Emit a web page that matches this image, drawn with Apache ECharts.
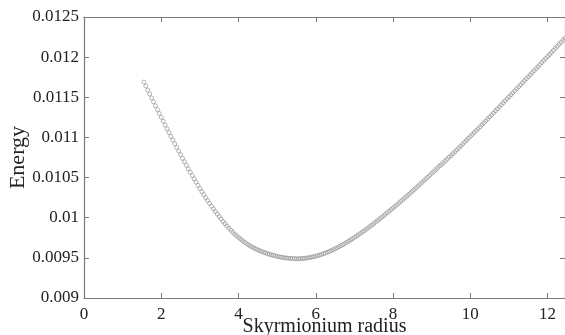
<!DOCTYPE html>
<html lang="en">

<head>
  <meta charset="UTF-8">
  <title>Energy vs Skyrmionium radius</title>
  <script src="https://cdn.jsdelivr.net/npm/echarts@6/dist/echarts.min.js"></script>
</head>
<style>
  * {
    margin: 0px;
    padding: 0px;
  }

  #chart {
    width: 565px;
    height: 335px;
  }
</style>

<body>
  <div id="chart"></div>
</body>
<script>
  // radius samples
  var radius = [
    1.55, 1.60, 1.65, 1.70, 1.75, 1.80, 1.85, 1.90, 1.95, 2.00,
    2.05, 2.10, 2.15, 2.20, 2.25, 2.30, 2.35, 2.40, 2.45, 2.50,
    2.55, 2.60, 2.65, 2.70, 2.75, 2.80, 2.85, 2.90, 2.95, 3.00,
    3.05, 3.10, 3.15, 3.20, 3.25, 3.30, 3.35, 3.40, 3.45, 3.50,
    3.55, 3.60, 3.65, 3.70, 3.75, 3.80, 3.85, 3.90, 3.95, 4.00,
    4.05, 4.10, 4.15, 4.20, 4.25, 4.30, 4.35, 4.40, 4.45, 4.50,
    4.55, 4.60, 4.65, 4.70, 4.75, 4.80, 4.85, 4.90, 4.95, 5.00,
    5.05, 5.10, 5.15, 5.20, 5.25, 5.30, 5.35, 5.40, 5.45, 5.50,
    5.55, 5.60, 5.65, 5.70, 5.75, 5.80, 5.85, 5.90, 5.95, 6.00,
    6.05, 6.10, 6.15, 6.20, 6.25, 6.30, 6.35, 6.40, 6.45, 6.50,
    6.55, 6.60, 6.65, 6.70, 6.75, 6.80, 6.85, 6.90, 6.95, 7.00,
    7.05, 7.10, 7.15, 7.20, 7.25, 7.30, 7.35, 7.40, 7.45, 7.50,
    7.55, 7.60, 7.65, 7.70, 7.75, 7.80, 7.85, 7.90, 7.95, 8.00,
    8.05, 8.10, 8.15, 8.20, 8.25, 8.30, 8.35, 8.40, 8.45, 8.50,
    8.55, 8.60, 8.65, 8.70, 8.75, 8.80, 8.85, 8.90, 8.95, 9.00,
    9.05, 9.10, 9.15, 9.20, 9.25, 9.30, 9.35, 9.40, 9.45, 9.50,
    9.55, 9.60, 9.65, 9.70, 9.75, 9.80, 9.85, 9.90, 9.95, 10.00,
    10.05, 10.10, 10.15, 10.20, 10.25, 10.30, 10.35, 10.40, 10.45, 10.50,
    10.55, 10.60, 10.65, 10.70, 10.75, 10.80, 10.85, 10.90, 10.95, 11.00,
    11.05, 11.10, 11.15, 11.20, 11.25, 11.30, 11.35, 11.40, 11.45, 11.50,
    11.55, 11.60, 11.65, 11.70, 11.75, 11.80, 11.85, 11.90, 11.95, 12.00,
    12.05, 12.10, 12.15, 12.20, 12.25, 12.30, 12.35, 12.40, 12.45
  ];

  // energy at each radius
  var energy = [
    0.011690, 0.011640, 0.011590, 0.011541, 0.011492, 0.011443, 0.011394, 0.011346, 0.011298, 0.011250,
    0.011202, 0.011154, 0.011107, 0.011060, 0.011013, 0.010967, 0.010921, 0.010875, 0.010830, 0.010785,
    0.010740, 0.010696, 0.010652, 0.010609, 0.010567, 0.010525, 0.010484, 0.010443, 0.010403, 0.010364,
    0.010325, 0.010287, 0.010250, 0.010214, 0.010179, 0.010144, 0.010110, 0.010077, 0.010045, 0.010014,
    0.009983, 0.009953, 0.009924, 0.009896, 0.009869, 0.009844, 0.009820, 0.009797, 0.009775, 0.009754,
    0.009734, 0.009715, 0.009697, 0.009680, 0.009664, 0.009649, 0.009635, 0.009622, 0.009610, 0.009599,
    0.009589, 0.009579, 0.009570, 0.009561, 0.009553, 0.009545, 0.009538, 0.009531, 0.009525, 0.009519,
    0.009514, 0.009509, 0.009505, 0.009501, 0.009498, 0.009495, 0.009493, 0.009491, 0.009490, 0.009489,
    0.009489, 0.009490, 0.009492, 0.009494, 0.009497, 0.009501, 0.009505, 0.009510, 0.009515, 0.009521,
    0.009528, 0.009535, 0.009543, 0.009552, 0.009561, 0.009570, 0.009580, 0.009591, 0.009602, 0.009614,
    0.009626, 0.009639, 0.009652, 0.009665, 0.009679, 0.009693, 0.009708, 0.009723, 0.009738, 0.009754,
    0.009770, 0.009787, 0.009803, 0.009820, 0.009837, 0.009855, 0.009872, 0.009890, 0.009908, 0.009927,
    0.009946, 0.009965, 0.009984, 0.010003, 0.010022, 0.010042, 0.010062, 0.010082, 0.010102, 0.010122,
    0.010142, 0.010162, 0.010183, 0.010203, 0.010224, 0.010245, 0.010266, 0.010287, 0.010308, 0.010330,
    0.010352, 0.010374, 0.010396, 0.010418, 0.010440, 0.010462, 0.010484, 0.010506, 0.010528, 0.010551,
    0.010574, 0.010597, 0.010620, 0.010643, 0.010661, 0.010684, 0.010707, 0.010730, 0.010754, 0.010773,
    0.010797, 0.010821, 0.010845, 0.010869, 0.010893, 0.010917, 0.010941, 0.010965, 0.010989, 0.011013,
    0.011037, 0.011061, 0.011085, 0.011109, 0.011133, 0.011158, 0.011182, 0.011207, 0.011231, 0.011256,
    0.011281, 0.011306, 0.011331, 0.011356, 0.011381, 0.011406, 0.011431, 0.011456, 0.011481, 0.011506,
    0.011531, 0.011556, 0.011581, 0.011606, 0.011631, 0.011656, 0.011681, 0.011706, 0.011731, 0.011756,
    0.011781, 0.011806, 0.011831, 0.011856, 0.011881, 0.011906, 0.011932, 0.011957, 0.011983, 0.012008,
    0.012033, 0.012059, 0.012084, 0.012110, 0.012135, 0.012161, 0.012186, 0.012212, 0.012237
  ];

  var points = radius.map(function (r, i) { return [r, energy[i]]; });

  var serif = 'Liberation Serif';
  var axisGrey = '#7a7a7a';

  // axes shared by the bottom/top and left/right frame
  function frameX(pos, withLabels) {
    return {
      type: 'value',
      position: pos,
      min: 0,
      max: 12.45,
      interval: 2,
      splitLine: { show: false },
      axisLine: { show: true, onZero: false, lineStyle: { color: axisGrey, width: 1.2 } },
      axisTick: { show: true, inside: true, length: 5, lineStyle: { color: axisGrey } },
      axisLabel: {
        show: withLabels,
        showMaxLabel: false,
        margin: 8,
        color: '#222',
        fontFamily: serif,
        fontSize: 17
      }
    };
  }

  function frameY(pos, withLabels) {
    return {
      type: 'value',
      position: pos,
      min: 0.009,
      max: 0.0125,
      interval: 0.0005,
      splitLine: { show: false },
      axisLine: { show: true, onZero: false, lineStyle: { color: axisGrey, width: 1.2 } },
      axisTick: { show: true, inside: true, length: 5, lineStyle: { color: axisGrey } },
      axisLabel: {
        show: withLabels,
        margin: 5,
        color: '#222',
        fontFamily: serif,
        fontSize: 17
      }
    };
  }

  var bottom = frameX('bottom', true);
  bottom.name = 'Skyrmionium radius';
  bottom.nameLocation = 'middle';
  bottom.nameGap = 19;
  bottom.nameMoveOverlap = false;
  bottom.nameTextStyle = { color: '#222', fontFamily: serif, fontSize: 20 };

  var left = frameY('left', true);
  left.name = 'Energy';
  left.nameLocation = 'middle';
  left.nameGap = 55;
  left.nameMoveOverlap = false;
  left.nameTextStyle = { color: '#222', fontFamily: serif, fontSize: 22 };

  var chart = echarts.init(document.getElementById('chart'));
  chart.setOption({
    animation: false,
    backgroundColor: '#fff',
    grid: { left: 84, right: 0, top: 17, bottom: 37, containLabel: false, outerBoundsMode: 'none' },
    xAxis: [bottom, frameX('top', false)],
    yAxis: [left, frameY('right', false)],
    series: [{
      type: 'scatter',
      xAxisIndex: 0,
      yAxisIndex: 0,
      symbol: 'circle',
      symbolSize: 4,
      itemStyle: { color: 'transparent', borderColor: '#8a8a8a', borderWidth: 0.8 },
      emphasis: { disabled: true },
      data: points
    }]
  });
</script>

</html>
